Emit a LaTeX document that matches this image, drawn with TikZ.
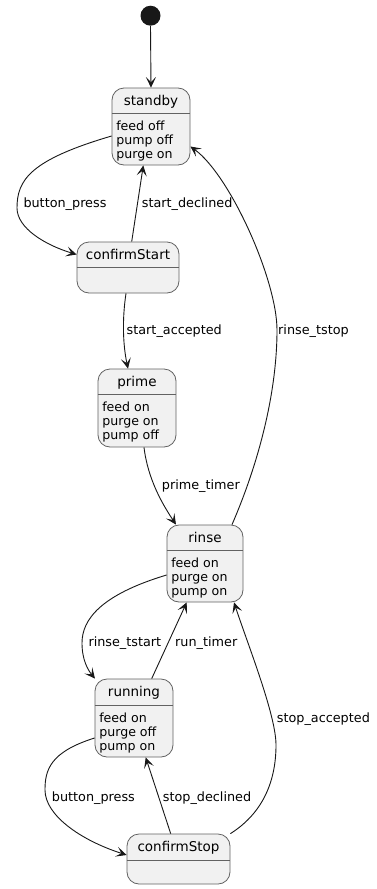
\documentclass[tikz,border=0pt]{standalone}
\usepackage{fontspec}
\setmainfont{DejaVu Sans}
\usetikzlibrary{arrows.meta}

\definecolor{statefill}{HTML}{F1F1F1}
\definecolor{stateline}{HTML}{626262}
\definecolor{ink}{HTML}{181818}

\tikzset{
  statebox/.style={draw=stateline, fill=statefill, rounded corners=12pt,
    line width=0.8pt, inner sep=0pt},
  divider/.style={draw=stateline, line width=0.8pt},
  titletext/.style={anchor=base, inner sep=0pt,
    font=\fontsize{13.5}{16}\selectfont},
  bodytext/.style={anchor=base west, inner sep=0pt,
    font=\fontsize{12.6}{14}\selectfont},
  lbl/.style={anchor=base west, inner sep=0pt,
    font=\fontsize{12.8}{15}\selectfont},
  edge/.style={draw=ink, line width=0.9pt,
    -{Stealth[length=10.5pt, width=10pt, inset=5pt]}},
  initial/.style={circle, fill=ink, minimum size=20pt, inner sep=0pt},
}

% state: name, centre x, centre y, width, height, header height, title, activities
\newcommand\umlstate[8]{%
  \node[statebox, minimum width=#4pt, minimum height=#5pt] (#1) at (#2,#3) {};
  \draw[divider] ([yshift=-#6pt]#1.north west) -- ([yshift=-#6pt]#1.north east);
  \node[titletext] (#1-name) at ([yshift=-17.5pt]#1.north) {#7};
  \node[bodytext] (#1-acts) at ([xshift=4.5pt,yshift=-#6pt]#1.north west)
    [yshift=-17pt] {\begin{tabular}[t]{@{}l@{}}#8\end{tabular}};
}

\begin{document}
\begin{tikzpicture}[x=1pt, y=-1pt]
  \fill[white] (0,0) rectangle (377,889);
  \useasboundingbox (0,0) rectangle (377,889);

  % initial pseudo-state
  \node[initial] (init) at (150.5,15.7) {};

  % states
  \umlstate{standby}{151}{126.5}{78}{77}{25.5}{standby}{feed off\\pump off\\purge on}
  \umlstate{confirmStart}{128}{267.5}{102}{51}{26}{confirmStart}{}
  \umlstate{prime}{137}{408}{78}{78}{26}{prime}{feed on\\purge on\\pump off}
  \umlstate{rinse}{205}{563.5}{76}{77}{26}{rinse}{feed on\\purge on\\pump on}
  \umlstate{running}{134}{718}{78}{78}{27}{running}{feed on\\purge off\\pump on}
  \umlstate{confirmStop}{178.5}{859}{103}{50}{27}{confirmStop}{}

  % transitions
  \draw[edge] (init.south) -- (standby.north);

  \draw[edge] ([yshift=-9.5pt]standby.west)
    .. controls (30,160) and (17,180) .. (17,208)
    .. controls (17,228) and (45,245) .. ([yshift=13pt]confirmStart.west);
  \node[lbl] (l-press1) at (23.3,207.3) {button\_press};

  \draw[edge] ([xshift=3.7pt]confirmStart.north) -- ([xshift=-7.7pt]standby.south);
  \node[lbl] (l-declined1) at (141.7,207.3) {start\_declined};

  \draw[edge] ([xshift=-2pt]confirmStart.south)
    .. controls (122,320) and (123,345) .. ([xshift=-9pt]prime.north);
  \node[lbl] (l-accepted1) at (126.5,334.3) {start\_accepted};

  \draw[edge] ([xshift=7pt]prime.south)
    .. controls (148,480) and (163,505) .. ([xshift=-29pt]rinse.north);
  \node[lbl] (l-prime) at (161.7,489.3) {prime\_timer};

  \draw[edge] ([xshift=27pt]rinse.north)
    .. controls (260,460) and (277,390) .. (277,330)
    .. controls (277,280) and (230,175) .. ([yshift=-20pt]standby.east);
  \node[lbl] (l-tstop) at (278,334.3) {rinse\_tstop};

  \draw[edge] ([yshift=-11.5pt]rinse.west)
    .. controls (100,595) and (82,620) .. (82,643)
    .. controls (82,660) and (88,670) .. ([xshift=-39pt]running.north);
  \node[lbl] (l-tstart) at (88.3,646) {rinse\_tstart};

  \draw[edge] ([xshift=17.7pt]running.north) -- ([xshift=-18.3pt]rinse.south);
  \node[lbl] (l-run) at (175,646) {run\_timer};

  \draw[edge] ([yshift=-20pt]running.west)
    .. controls (50,752) and (45,770) .. (45,790)
    .. controls (45,815) and (80,840) .. ([yshift=4pt]confirmStop.west);
  \node[lbl] (l-press2) at (51.7,801) {button\_press};

  \draw[edge] ([xshift=-7.8pt]confirmStop.north) -- ([xshift=11.7pt]running.south);
  \node[lbl] (l-declined2) at (162.7,801) {stop\_declined};

  \draw[edge] (confirmStop.north east)
    .. controls (260,815) and (276,785) .. (276,745)
    .. controls (276,715) and (248,645) .. ([xshift=29pt]rinse.south);
  \node[lbl] (l-accepted2) at (276.7,722.7) {stop\_accepted};
\end{tikzpicture}
\end{document}
